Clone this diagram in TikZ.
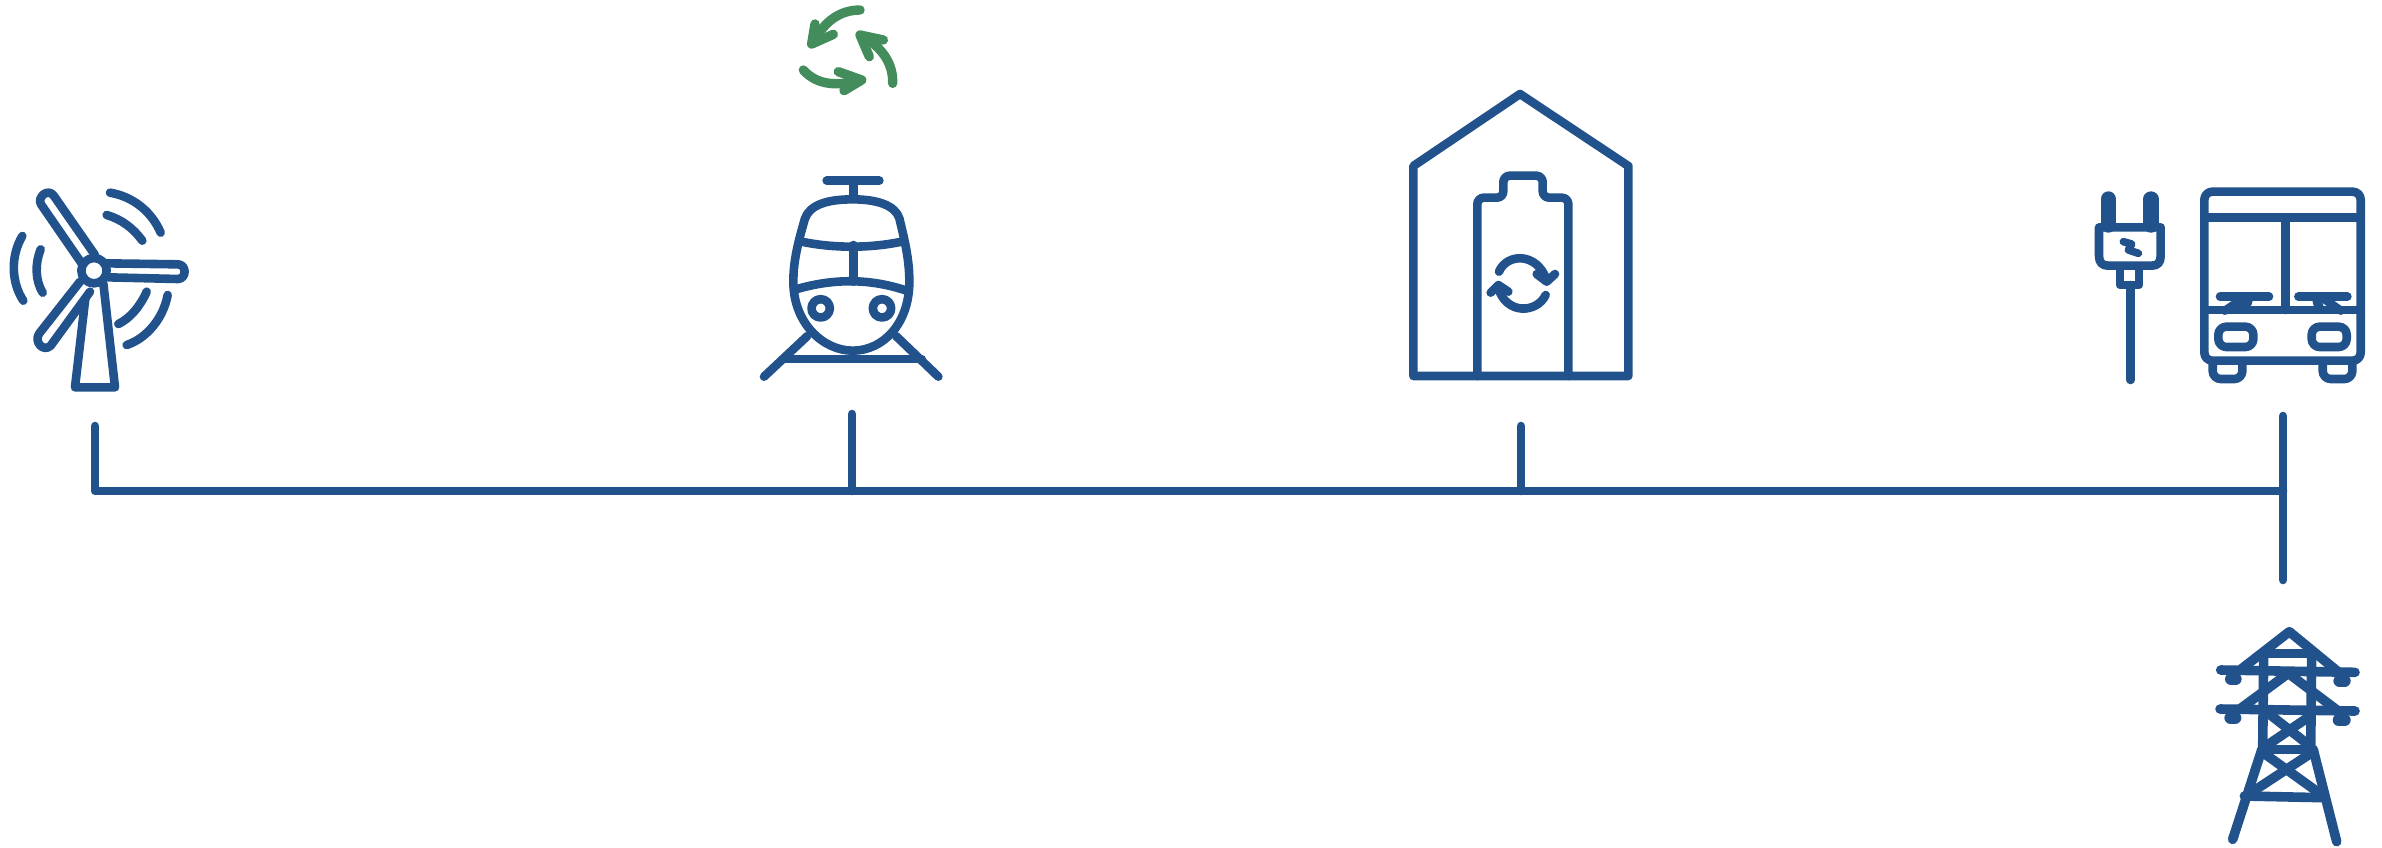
\documentclass[tikz,border=0pt]{standalone}
\definecolor{iconblue}{HTML}{22528B}
\definecolor{icongreen}{HTML}{438C5B}
\tikzset{
  x=0.5pt,y=-0.5pt,
  ln/.style={draw=iconblue,line width=4.3pt,line cap=round,line join=round},
  twr/.style={draw=iconblue,line width=4.8pt,line cap=round,line join=round},
  zoomed/.style={x=0.16667pt,y=-0.16667pt},
  gr/.style={draw=icongreen,line width=4.7pt,line cap=round,line join=round},
}
\begin{document}
\begin{tikzpicture}
\useasboundingbox (0,0) rectangle (2382,847);
% connector
\coordinate (turbine) at (95,426);
\coordinate (corner) at (95,491);
\coordinate (train) at (852,414);
\coordinate (trainj) at (852,491);
\coordinate (store) at (1521,426);
\coordinate (storej) at (1521,491);
\coordinate (bus) at (2283,416);
\coordinate (busj) at (2283,491);
\coordinate (tower) at (2283,580);
\draw[ln] (turbine) -- (corner) -- (busj);
\draw[ln] (train) -- (trainj);
\draw[ln] (store) -- (storej);
\draw[ln] (bus) -- (tower);
% turbine
\begin{scope}[shift={(0,170)},zoomed]
\draw[ln] (245,280) -- (123,103) .. controls (110,82) and (145,52) .. (162,78) -- (285,255);
\draw[ln] (320,280) -- (535,283) .. controls (560,285) and (560,325) .. (535,327) -- (325,322);
\draw[ln] (240,335) -- (118,490) .. controls (100,515) and (130,548) .. (152,527) -- (270,365);
\draw[ln] (256,385) -- (225,652) -- (345,652) -- (310,340);
\draw[ln] (282,302) circle (38);
\draw[ln] (330,68) .. controls (400,80) and (455,125) .. (482,188);
\draw[ln] (320,135) .. controls (365,148) and (400,175) .. (427,212);
\draw[ln] (67,198) .. controls (30,260) and (35,340) .. (70,392);
\draw[ln] (122,238) .. controls (105,280) and (105,330) .. (128,368);
\draw[ln] (440,365) .. controls (420,410) and (390,445) .. (355,462);
\draw[ln] (503,375) .. controls (490,445) and (440,505) .. (380,525);
\end{scope}
% train
\begin{scope}[shift={(720,160)},zoomed]
\draw[ln] (320,62) -- (478,62);
\draw[ln] (400,62) -- (400,115);
\draw[ln] (398,118) .. controls (320,118) and (270,135) .. (255,175) .. controls (235,245) and (220,300) .. (220,365) .. controls (220,490) and (310,572) .. (398,572) .. controls (490,572) and (568,490) .. (568,365) .. controls (568,300) and (555,245) .. (538,175) .. controls (525,135) and (470,118) .. (398,118) -- cycle;
\draw[ln] (245,245) .. controls (340,265) and (450,265) .. (545,245);
\draw[ln] (228,388) .. controls (340,355) and (450,355) .. (560,392);
\draw[ln] (400,255) -- (400,365);
\draw[ln] (302,445) circle (27.5);
\draw[ln] (486,445) circle (27.5);
\draw[ln] (132,650) -- (262,528);
\draw[ln] (655,650) -- (528,528);
\draw[ln] (190,597) -- (605,597);
\end{scope}
% recycle
\begin{scope}[shift={(780,0)},zoomed]
\draw[gr] (240,30) .. controls (180,30) and (130,65) .. (100,130);
\draw[gr] (105,72) -- (95,132) -- (160,103);
\draw[gr] (338,250) .. controls (340,190) and (305,140) .. (245,108);
\draw[gr] (310,120) -- (240,105) -- (268,170);
\draw[gr] (70,210) .. controls (110,255) and (170,260) .. (240,240);
\draw[gr] (175,215) -- (245,240) -- (192,272);
\end{scope}
% house
\begin{scope}[shift={(1400,80)},zoomed]
\draw[ln] (40,888) -- (40,258) -- (360,42) -- (685,258) -- (685,888) -- cycle;
\draw[ln,rounded corners=3.2pt] (232,888) -- (232,353) -- (310,353) -- (310,287) -- (428,287) -- (428,353) -- (505,353) -- (505,888);
\draw[ln] (297,575) .. controls (320,520) and (410,515) .. (440,600);
\draw[ln] (410,582) -- (440,605) -- (465,582);
\draw[ln] (437,645) .. controls (410,700) and (320,705) .. (295,625);
\draw[ln] (272,638) -- (295,615) -- (325,635);
\end{scope}
% plug and bus
\begin{scope}[shift={(2070,170)},zoomed]
\draw[ln,line width=7.7pt] (115,87) -- (115,165);
\draw[ln,line width=7.7pt] (243,87) -- (243,165);
\draw[ln] (87,172) -- (87,258) .. controls (87,278) and (97,287) .. (115,287) -- (245,287) .. controls (262,287) and (272,278) .. (272,258) -- (272,172) -- cycle;
\draw[ln] (150,290) -- (150,345) -- (207,345) -- (207,290);
\draw[ln] (182,345) -- (182,630);
\draw[ln,line width=3.8pt] (160,215) -- (185,222) -- (175,240) -- (205,250);
\draw[ln,rounded corners=4pt] (403,572) -- (403,65) -- (872,65) -- (872,572) -- cycle;
\draw[ln] (403,143) -- (872,143);
\draw[ln] (647,143) -- (647,420);
\draw[ln] (403,420) -- (872,420);
\draw[ln] (450,380) -- (597,380);
\draw[ln] (685,380) -- (832,380);
\draw[ln] (465,422) -- (520,385) -- (535,395) -- (520,415);
\draw[ln] (812,422) -- (760,385) -- (740,395) -- (750,415);
\draw[ln,rounded corners=4pt] (445,470) rectangle (550,531);
\draw[ln,rounded corners=4pt] (725,470) rectangle (830,531);
\draw[ln,rounded corners=4pt] (428,575) -- (428,627) -- (517,627) -- (517,575);
\draw[ln,rounded corners=4pt] (758,575) -- (758,627) -- (847,627) -- (847,575);
\end{scope}
% tower
\begin{scope}[shift={(2150,610)},zoomed]
\draw[twr] (270,180) -- (418,65) -- (570,190);
\draw[twr] (350,130) -- (480,130);
\draw[twr] (212,180) -- (615,187);
\draw[twr,line width=6pt] (243,207) -- (257,207);
\draw[twr,line width=6pt] (568,212) -- (584,212);
\draw[twr] (341,130) -- (338,420);
\draw[twr] (485,130) -- (482,420);
\draw[twr] (272,295) -- (415,190) -- (558,298);
\draw[twr] (210,297) -- (615,303);
\draw[twr,line width=6pt] (241,323) -- (256,323);
\draw[twr,line width=6pt] (566,330) -- (584,330);
\draw[twr] (355,310) -- (470,400);
\draw[twr] (470,325) -- (345,410);
\draw[twr] (335,418) -- (490,418);
\draw[twr] (335,420) -- (248,688);
\draw[twr] (490,420) -- (560,695);
\draw[twr] (335,425) -- (495,540);
\draw[twr] (490,425) -- (300,550);
\draw[twr] (283,558) -- (520,563);
\end{scope}
\end{tikzpicture}
\end{document}
